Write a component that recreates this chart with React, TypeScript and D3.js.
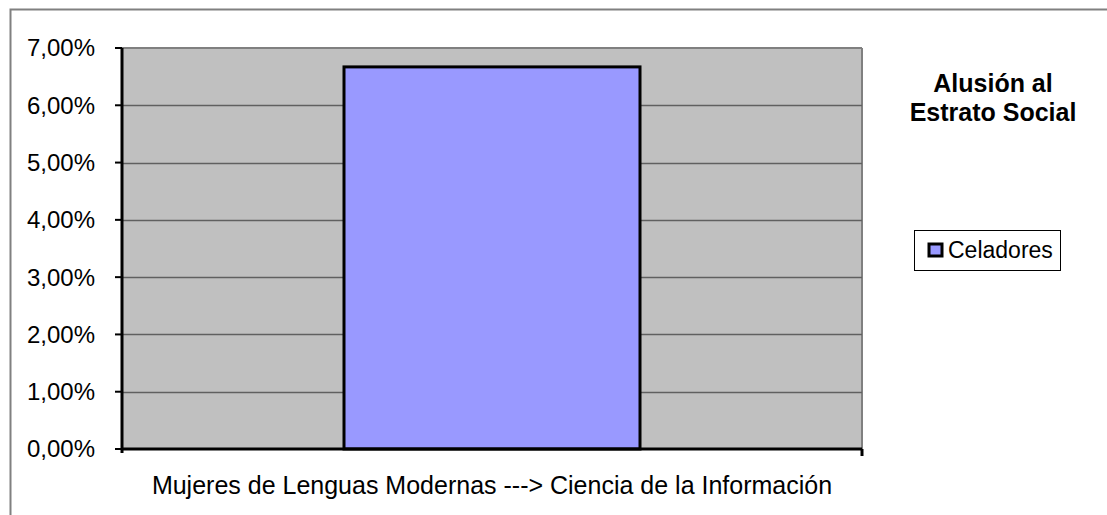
import React from 'react';
import * as d3 from 'd3';

const categories = ['Mujeres de Lenguas Modernas ---> Ciencia de la Información'];
const seriesName = 'Celadores';
const seriesValues = [6.67];
const yTicks = [0, 1, 2, 3, 4, 5, 6, 7];
const titleLines = ['Alusión al', 'Estrato Social'];

const W = 1107;
const H = 515;
const font = '"Liberation Sans", Arial, sans-serif';

const App = () => {
  // plot area
  const margin = { left: 122, top: 48, right: 862, bottom: 449 };

  const x = d3
    .scaleBand()
    .domain(categories)
    .range([margin.left, margin.right])
    .paddingInner(0)
    .paddingOuter(0.75);

  const y = d3.scaleLinear().domain([0, 7]).range([margin.bottom, margin.top]);

  const fmt = (v) => v.toFixed(2).replace('.', ',') + '%';

  return (
    <svg
      width={W}
      height={H}
      style={{ position: 'absolute', left: 0, top: 0, background: '#fff' }}
    >
      {/* chart frame */}
      <rect x={10.5} y={9.5} width={W + 20} height={H + 20} fill="none" stroke="#808080" strokeWidth={2} />

      {/* plot background */}
      <rect
        x={margin.left}
        y={margin.top}
        width={margin.right - margin.left}
        height={margin.bottom - margin.top}
        fill="#C0C0C0"
      />
      <line x1={margin.left} x2={margin.right} y1={margin.top} y2={margin.top} stroke="#808080" strokeWidth={2} />
      <line x1={margin.right} x2={margin.right} y1={margin.top} y2={margin.bottom} stroke="#808080" strokeWidth={2} />

      {/* gridlines */}
      {yTicks.slice(1, -1).map((t) => (
        <line
          key={'g' + t}
          x1={margin.left}
          x2={margin.right}
          y1={Math.round(y(t)) + 0.5}
          y2={Math.round(y(t)) + 0.5}
          stroke="#606060"
          strokeWidth={1.5}
        />
      ))}

      {/* bars */}
      {categories.map((c, i) => (
        <rect
          key={c}
          x={x(c)}
          y={y(seriesValues[i])}
          width={x.bandwidth()}
          height={y(0) - y(seriesValues[i])}
          fill="#9999FF"
          stroke="#000"
          strokeWidth={3}
        />
      ))}

      {/* y axis */}
      <line x1={margin.left} x2={margin.left} y1={margin.top} y2={margin.bottom + 4} stroke="#000" strokeWidth={3} />
      {yTicks.map((t) => (
        <g key={'t' + t}>
          <line x1={margin.left - 7} x2={margin.left} y1={y(t)} y2={y(t)} stroke="#000" strokeWidth={2} />
          <text
            x={95}
            y={y(t)}
            dy="0.35em"
            textAnchor="end"
            fontFamily={font}
            fontSize={24}
            fill="#000"
          >
            {fmt(t)}
          </text>
        </g>
      ))}

      {/* x axis */}
      <line x1={margin.left} x2={margin.right} y1={margin.bottom} y2={margin.bottom} stroke="#000" strokeWidth={3} />
      <line x1={margin.right} x2={margin.right} y1={margin.bottom} y2={margin.bottom + 7} stroke="#000" strokeWidth={3} />
      {categories.map((c) => (
        <text
          key={'c' + c}
          x={(margin.left + margin.right) / 2}
          y={494}
          textAnchor="middle"
          fontFamily={font}
          fontSize={25}
          fill="#000"
        >
          {c}
        </text>
      ))}

      {/* title */}
      {titleLines.map((l, i) => (
        <text
          key={l}
          x={993}
          y={92 + i * 29}
          textAnchor="middle"
          fontFamily={font}
          fontSize={25}
          fontWeight="bold"
          fill="#000"
        >
          {l}
        </text>
      ))}

      {/* legend */}
      <rect x={914.5} y={230.5} width={146} height={40} fill="#fff" stroke="#000" strokeWidth={1} />
      <rect x={929} y={244} width={13} height={12} fill="#9999FF" stroke="#000" strokeWidth={3} />
      <text x={948} y={258} fontFamily={font} fontSize={23} fill="#000">
        {seriesName}
      </text>
    </svg>
  );
};

export default App;
